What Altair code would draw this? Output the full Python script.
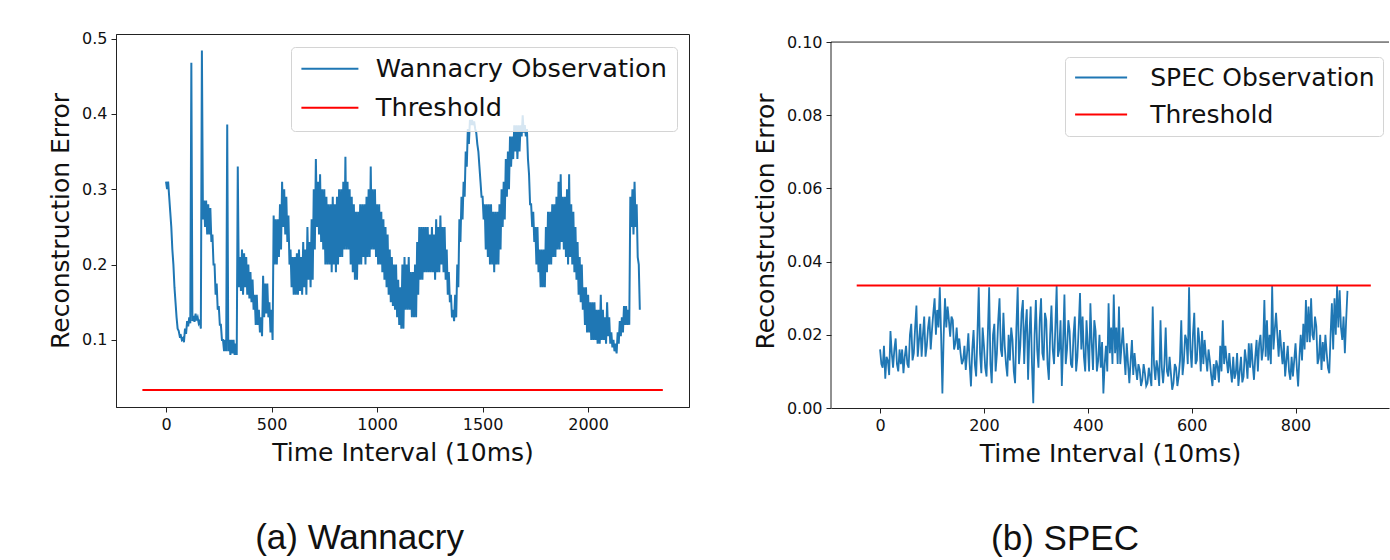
import altair as alt
import pandas as pd

# ---------------- data ----------------
# Wannacry panel: the noisy observation swings between an upper and a lower
# envelope; both read every 10 steps (upper at t, lower at t+5), t = 0 .. 2240
wanna_step = 10
wanna_upper = [
    0.31, 0.31, 0.27, 0.22, 0.17, 0.13, 0.112, 0.106, 0.102, 0.115,
    0.125, 0.13, 0.468, 0.132, 0.135, 0.13, 0.125, 0.484, 0.285, 0.285,
    0.28, 0.275, 0.24, 0.20, 0.175, 0.145, 0.12, 0.10, 0.10, 0.386,
    0.10, 0.10, 0.10, 0.095, 0.33, 0.21, 0.22, 0.215, 0.21, 0.20,
    0.19, 0.18, 0.16, 0.16, 0.14, 0.13, 0.185, 0.175, 0.175, 0.15,
    0.14, 0.265, 0.26, 0.26, 0.28, 0.31, 0.30, 0.29, 0.265, 0.22,
    0.21, 0.21, 0.215, 0.22, 0.21, 0.23, 0.22, 0.25, 0.23, 0.26,
    0.30, 0.34, 0.31, 0.32, 0.30,
    # t = 750 ..
    0.30, 0.29, 0.28, 0.28, 0.29, 0.28, 0.29, 0.30, 0.30, 0.31,
    0.343, 0.31, 0.30, 0.29, 0.28, 0.27, 0.27, 0.28, 0.28, 0.28,
    0.29, 0.30, 0.33, 0.30, 0.30, 0.28, 0.28, 0.27, 0.26, 0.25,
    0.24, 0.22, 0.21, 0.20, 0.20, 0.18, 0.17, 0.20, 0.21, 0.20,
    0.21, 0.19, 0.19, 0.20, 0.23, 0.25, 0.25, 0.25, 0.25, 0.25,
    0.24, 0.25, 0.24, 0.26, 0.25, 0.265, 0.25, 0.25, 0.22, 0.19,
    0.16, 0.14, 0.16, 0.20, 0.26, 0.29, 0.31, 0.35, 0.38, 0.392,
    0.392, 0.39, 0.375, 0.35, 0.31, 0.29, 0.28, 0.28,
    # t = 1530 ..
    0.28, 0.28, 0.27, 0.27, 0.27, 0.28, 0.30, 0.31, 0.34, 0.35,
    0.37, 0.37, 0.385, 0.385, 0.385, 0.385, 0.398, 0.385, 0.38, 0.32,
    0.28, 0.27, 0.25, 0.25, 0.22, 0.22, 0.22, 0.25, 0.27, 0.27,
    0.28, 0.28, 0.29, 0.31, 0.32, 0.29, 0.29, 0.30, 0.32, 0.28,
    0.27, 0.25, 0.23, 0.21, 0.20, 0.17, 0.17, 0.16, 0.15, 0.15,
    0.15, 0.14, 0.14, 0.16, 0.14, 0.13, 0.15, 0.13, 0.11, 0.10,
    0.095, 0.11, 0.125, 0.13, 0.145, 0.145, 0.14, 0.29, 0.30, 0.31,
    0.28, 0.20,
]
wanna_lower = [
    0.30, 0.29, 0.25, 0.20, 0.15, 0.115, 0.105, 0.10, 0.097, 0.108,
    0.118, 0.122, 0.125, 0.124, 0.126, 0.122, 0.115, 0.26, 0.25, 0.24,
    0.24, 0.23, 0.20, 0.16, 0.14, 0.12, 0.10, 0.085, 0.085, 0.085,
    0.08, 0.082, 0.08, 0.08, 0.17, 0.165, 0.16, 0.17, 0.16, 0.155,
    0.15, 0.14, 0.12, 0.12, 0.11, 0.105, 0.13, 0.135, 0.13, 0.11,
    0.10, 0.20, 0.20, 0.21, 0.22, 0.25, 0.24, 0.23, 0.20, 0.17,
    0.16, 0.16, 0.16, 0.165, 0.16, 0.17, 0.16, 0.18, 0.17, 0.18,
    0.22, 0.25, 0.24, 0.23, 0.22,
    # t = 755 ..
    0.20, 0.20, 0.20, 0.19, 0.20, 0.19, 0.20, 0.21, 0.21, 0.22,
    0.22, 0.22, 0.20, 0.19, 0.18, 0.18, 0.20, 0.20, 0.21, 0.20,
    0.21, 0.21, 0.22, 0.22, 0.21, 0.20, 0.20, 0.19, 0.18, 0.17,
    0.16, 0.15, 0.145, 0.14, 0.13, 0.12, 0.115, 0.115, 0.14, 0.14,
    0.14, 0.13, 0.13, 0.13, 0.16, 0.18, 0.18, 0.19, 0.19, 0.19,
    0.19, 0.19, 0.18, 0.19, 0.19, 0.20, 0.19, 0.18, 0.16, 0.15,
    0.13, 0.125, 0.13, 0.17, 0.23, 0.26, 0.29, 0.33, 0.36, 0.385,
    0.385, 0.38, 0.36, 0.33, 0.29, 0.26, 0.22, 0.21,
    # t = 1535 ..
    0.20, 0.20, 0.19, 0.20, 0.20, 0.22, 0.25, 0.26, 0.29, 0.30,
    0.33, 0.34, 0.35, 0.34, 0.35, 0.37, 0.375, 0.37, 0.34, 0.28,
    0.25, 0.23, 0.20, 0.19, 0.17, 0.17, 0.17, 0.19, 0.20, 0.20,
    0.21, 0.21, 0.22, 0.22, 0.23, 0.22, 0.21, 0.20, 0.21, 0.20,
    0.19, 0.18, 0.16, 0.15, 0.14, 0.12, 0.11, 0.11, 0.10, 0.10,
    0.10, 0.095, 0.095, 0.10, 0.10, 0.095, 0.105, 0.095, 0.09, 0.085,
    0.082, 0.095, 0.105, 0.11, 0.12, 0.12, 0.12, 0.25, 0.24, 0.25,
    0.21, 0.14,
]
wanna_threshold = 0.0335
wanna_thr_t = [-112, 2354]

# SPEC panel: observation read every 5 steps (t = 0 .. 900) plus the values
# in between (t = 2.5 .. 897.5)
spec_step = 5
spec_main = [
    0.016, 0.011, 0.008, 0.013, 0.021, 0.011, 0.019, 0.010, 0.012, 0.0095,
    0.017, 0.011, 0.023, 0.015, 0.028, 0.0186, 0.014, 0.025, 0.017, 0.025,
    0.0213, 0.030, 0.0268, 0.033, 0.004, 0.030, 0.0277, 0.0195, 0.024, 0.0177,
    0.0159, 0.015, 0.013, 0.0104, 0.0204, 0.0059, 0.0213, 0.0086, 0.033, 0.0095,
    0.017, 0.0086, 0.033, 0.0068, 0.023, 0.015, 0.030, 0.014, 0.017, 0.0086,
    0.013, 0.0186, 0.0068, 0.033, 0.017, 0.0295, 0.022, 0.0077, 0.0277, 0.0013,
    0.0295, 0.011, 0.030, 0.013, 0.024, 0.0077, 0.028, 0.012, 0.0333, 0.016,
    0.006, 0.031, 0.016, 0.021, 0.011, 0.025, 0.014, 0.0314, 0.025, 0.010,
    0.017, 0.0286, 0.0104, 0.021, 0.013, 0.011, 0.004, 0.017, 0.0286, 0.022,
    0.031, 0.022, 0.0277, 0.017, 0.015, 0.0177, 0.0068, 0.0186, 0.015, 0.0077,
    0.0104, 0.0077, 0.0095, 0.0068, 0.0086, 0.0277, 0.0077, 0.0104, 0.024, 0.0068,
    0.022, 0.0086, 0.0095, 0.0068, 0.011, 0.0086, 0.024, 0.0127, 0.0186, 0.033,
    0.011, 0.026, 0.013, 0.018, 0.021, 0.0186, 0.010, 0.013, 0.006, 0.0077,
    0.0113, 0.017, 0.024, 0.017, 0.0095, 0.0104, 0.014, 0.0095, 0.006, 0.014,
    0.0086, 0.013, 0.0177, 0.0177, 0.0077, 0.0186, 0.0177, 0.013, 0.0295, 0.024,
    0.020, 0.0333, 0.0213, 0.020, 0.0213, 0.012, 0.0086, 0.017, 0.0077, 0.0086,
    0.0177, 0.0059, 0.020, 0.023, 0.0295, 0.0277, 0.030, 0.0186, 0.0223, 0.0136,
    0.0104, 0.0127, 0.015, 0.0095, 0.0286, 0.030, 0.0333, 0.0322, 0.0186, 0.015,
    0.032,
]
spec_mid = [
    0.012, 0.017, 0.014, 0.009, 0.015, 0.016, 0.012, 0.016, 0.016, 0.014,
    0.012, 0.020, 0.013, 0.022, 0.014, 0.023, 0.020, 0.014, 0.022, 0.016,
    0.026, 0.020, 0.022, 0.020, 0.020, 0.022, 0.024, 0.025, 0.016, 0.022,
    0.019, 0.012, 0.017, 0.015, 0.012, 0.016, 0.012, 0.020, 0.015, 0.022,
    0.011, 0.020, 0.012, 0.020, 0.010, 0.024, 0.016, 0.026, 0.012, 0.020,
    0.022, 0.010, 0.022, 0.012, 0.026, 0.012, 0.027, 0.020, 0.012, 0.020,
    0.016, 0.024, 0.015, 0.026, 0.012, 0.020, 0.016, 0.022, 0.014, 0.024,
    0.018, 0.012, 0.024, 0.012, 0.020, 0.010, 0.022, 0.016, 0.014, 0.024,
    0.010, 0.018, 0.024, 0.010, 0.020, 0.018, 0.012, 0.010, 0.015, 0.012,
    0.015, 0.012, 0.012, 0.022, 0.009, 0.012, 0.013, 0.009, 0.011, 0.012,
    0.006, 0.012, 0.006, 0.011, 0.006, 0.012, 0.013, 0.006, 0.011, 0.012,
    0.010, 0.014, 0.005, 0.012, 0.006, 0.013, 0.009, 0.020, 0.012, 0.016,
    0.020, 0.012, 0.022, 0.010, 0.012, 0.014, 0.016, 0.009, 0.012, 0.013,
    0.007, 0.010, 0.012, 0.013, 0.015, 0.007, 0.008, 0.015, 0.010, 0.007,
    0.016, 0.008, 0.011, 0.012, 0.014, 0.010, 0.020, 0.016, 0.014, 0.013,
    0.012, 0.016, 0.026, 0.014, 0.016, 0.018, 0.013, 0.010, 0.014, 0.013,
    0.011, 0.014, 0.013, 0.016, 0.018, 0.018, 0.020, 0.025, 0.012, 0.020,
    0.018, 0.020, 0.011, 0.020, 0.016, 0.020, 0.022, 0.022, 0.025, 0.024,
]
spec_threshold = 0.0335
spec_thr_t = [-45, 945]

wanna_x_ticks = [0, 500, 1000, 1500, 2000]
wanna_y_ticks = [0.1, 0.2, 0.3, 0.4, 0.5]
spec_x_ticks = [0, 200, 400, 600, 800]
spec_y_ticks = [0.0, 0.02, 0.04, 0.06, 0.08, 0.10]

BLUE = "#1f77b4"
RED = "#ff0000"
FONT = "DejaVu Sans"
SPINE = "#222222"

# build the observation tables
wanna_t = []
wanna_v = []
for i in range(len(wanna_upper)):
    wanna_t += [i * wanna_step, i * wanna_step + wanna_step / 2]
    wanna_v += [wanna_upper[i], wanna_lower[i]]

spec_t = []
spec_v = []
for i in range(len(spec_main)):
    spec_t.append(i * spec_step)
    spec_v.append(spec_main[i])
    if i < len(spec_mid):
        spec_t.append(i * spec_step + spec_step / 2)
        spec_v.append(spec_mid[i])


def panel(ts, vs, thr_t, thr_v, name, caption, xdom, ydom, xticks, yticks,
          yfmt, width, height, lx, ly, symlen, lpad, lfs, rowpad, framed,
          cap_dx, ytop, obs_w):
    obs = pd.DataFrame({"t": ts, "v": vs, "series": name})
    thr = pd.DataFrame({"t": thr_t, "v": [thr_v, thr_v], "series": "Threshold"})
    r = symlen / 5.0
    color = alt.Color(
        "series:N",
        scale=alt.Scale(domain=[name, "Threshold"], range=[BLUE, RED]),
        legend=alt.Legend(
            title=None, orient="none", legendX=lx, legendY=ly,
            fillColor="rgba(255,255,255,0.82)", strokeColor="#d4d4d4",
            cornerRadius=4,
            padding=lpad, symbolType="M-2.5,0H2.5", symbolSize=(2 * r) ** 2,
            symbolStrokeWidth=2, symbolOffset=1.5 * r,
            labelFontSize=lfs, labelFont=FONT, labelLimit=600,
            labelColor="#111111", labelOffset=73 - 3.5 * r,
            rowPadding=rowpad,
        ),
    )
    x = alt.X("t:Q", scale=alt.Scale(domain=xdom, nice=False, zero=False),
              axis=alt.Axis(values=xticks, title="Time Interval (10ms)",
                            format="d"))
    y = alt.Y("v:Q", scale=alt.Scale(domain=ydom, nice=False, zero=False),
              axis=alt.Axis(values=yticks, title="Reconstruction Error",
                            format=yfmt, domain=framed))
    line_obs = alt.Chart(obs).mark_line(strokeWidth=obs_w, clip=True).encode(
        x=x, y=y, color=color)
    line_thr = alt.Chart(thr).mark_line(strokeWidth=2, clip=True).encode(
        x="t:Q", y="v:Q", color="series:N")
    layers = [line_obs, line_thr]
    if not framed:
        frame = pd.DataFrame({"x": [xdom[0]], "y0": [ydom[0]], "y1": [ytop]})
        top = alt.Chart(frame).mark_rule(color=SPINE, strokeWidth=1).encode(
            y="y1:Q")
        side = alt.Chart(frame).mark_rule(color=SPINE, strokeWidth=1).encode(
            x="x:Q", y="y0:Q", y2="y1:Q")
        layers += [top, side]
    ch = alt.layer(*layers).properties(
        width=width, height=height,
        title=alt.TitleParams(caption, orient="bottom", fontSize=35,
                              font="Liberation Sans", fontWeight="normal",
                              offset=56, dx=cap_dx, color="#111111"),
    )
    if not framed:
        ch = ch.properties(view=alt.ViewBackground(stroke="transparent"))
    return ch


left = panel(wanna_t, wanna_v, wanna_thr_t, wanna_threshold,
             "Wannacry Observation", "(a) Wannacry", [-237, 2478],
             [0.011, 0.506], wanna_x_ticks, wanna_y_ticks, ".1f", 573, 373,
             175, 13, 57, 9, 25.6, 12, True, -43, 0.506, 2.0)
right = panel(spec_t, spec_v, spec_thr_t, spec_threshold, "SPEC Observation",
              "(b) SPEC", [-94.5, 980], [0.0, 0.1022], spec_x_ticks,
              spec_y_ticks, ".2f", 558, 374, 234, 23, 52, 8, 25, 11, False,
              -45, 0.10, 1.8)

chart = alt.hconcat(left, right, spacing=62).resolve_scale(
    color="independent").properties(
    padding={"left": 48, "top": 30, "right": 0, "bottom": 0},
    background="white",
).configure_view(stroke=SPINE, strokeWidth=1).configure_axis(
    labelFont=FONT, titleFont=FONT, labelFontSize=16, titleFontSize=25,
    labelColor="#111111", titleColor="#111111", titleFontWeight="normal",
    domainColor=SPINE, tickColor=SPINE, tickSize=5, grid=False,
    labelPadding=4, titlePadding=8,
)

chart.save("out.html", embed_options={"renderer": "svg", "actions": False})
